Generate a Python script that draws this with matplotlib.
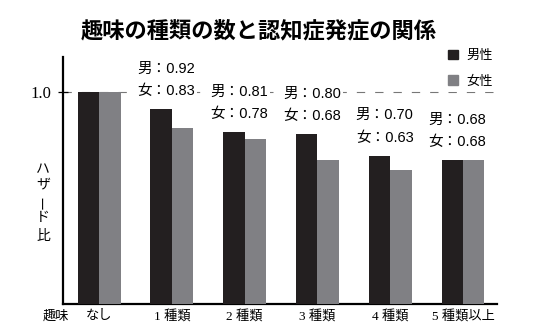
import matplotlib
matplotlib.use("Agg")
import matplotlib.pyplot as plt
from matplotlib.patches import Patch
import numpy as np

plt.rcParams['font.family'] = ['Liberation Sans', 'Noto Sans CJK JP', 'DejaVu Sans']

# data
categories = ["なし", "1 種類", "2 種類", "3 種類", "4 種類", "5 種類以上"]
male = [1.00, 0.92, 0.81, 0.80, 0.70, 0.68]
female = [1.00, 0.83, 0.78, 0.68, 0.63, 0.68]
series_names = ["男性", "女性"]
title = "趣味の種類の数と認知症発症の関係"
ylabel_chars = ["ハ", "ザ", "ー", "ド", "比"]

MALE_C = "#231f20"
FEMALE_C = "#808084"

W, H = 541, 333
fig = plt.figure(figsize=(W / 100, H / 100), dpi=100)
ax = fig.add_axes([63 / W, 29 / H, (497 - 63) / W, (304 - 57) / H])

x = np.arange(len(categories))
bw = 0.295
ax.bar(x - bw / 2, male, width=bw, color=MALE_C, zorder=3)
ax.bar(x + bw / 2, female, width=bw, color=FEMALE_C, zorder=3)

ax.set_xlim(-0.495, 5.467)
ax.set_ylim(0, 1.165)

# reference line at 1.0
ax.axhline(1.0, color="#777777", lw=0.8, dashes=(7.5, 9), zorder=1)

# spines and ticks
for s in ["top", "right"]:
    ax.spines[s].set_visible(False)
ax.spines["left"].set_linewidth(1.6)
ax.spines["bottom"].set_linewidth(1.6)
ax.set_yticks([1.0])
ax.set_yticklabels(["1.0"], family=["Liberation Serif", "Noto Sans CJK JP"], fontsize=12)
ax.tick_params(axis="y", direction="inout", length=7, width=0.9, pad=5)
ax.set_xticks(x)
ax.set_xticklabels(categories, family=["Liberation Serif", "Noto Sans CJK JP"], fontsize=9.5)
ax.tick_params(axis="x", length=0, pad=4)
fig.text(56 / W, 1 - 316 / H, "趣味", ha="center", va="center",
         family=["Noto Sans CJK JP"], fontsize=9.5)

# value labels
lab_font = dict(fontsize=10.5, family=["Liberation Sans", "Noto Sans CJK JP"],
                ha="center", va="center", zorder=5,
                bbox=dict(boxstyle="square,pad=0.15", fc="white", ec="none"))
for i in range(1, len(categories)):
    ax.annotate(f"男：{male[i]:.2f}", xy=(x[i], male[i]), xytext=(-4, 29),
                textcoords="offset points", **lab_font)
    ax.annotate(f"女：{female[i]:.2f}", xy=(x[i], male[i]), xytext=(-4, 13),
                textcoords="offset points", **lab_font)

# vertical y-axis label
ycent = [169, 184, 202, 217, 236]
for ch, yc in zip(ylabel_chars, ycent):
    rot = 90 if ch == "ー" else 0
    fig.text(43 / W, 1 - yc / H, ch, ha="center", va="center", rotation=rot,
             family=["Noto Sans CJK JP"], fontsize=10)

# title
fig.text(259 / W, 1 - 31 / H, title, ha="center", va="center",
         family=["Noto Sans CJK JP"], fontweight="bold", fontsize=16)

# legend
handles = [Patch(color=MALE_C), Patch(color=FEMALE_C)]
leg = fig.legend(handles, series_names, loc="upper left",
                 bbox_to_anchor=(437 / W, 1 - 38 / H),
                 prop=dict(family=["Noto Sans CJK JP"], size=9.5),
                 handlelength=0.75, handleheight=0.75, handletextpad=0.6,
                 labelspacing=0.95, borderpad=0.35, frameon=True, fancybox=False)
leg.get_frame().set_facecolor("white")
leg.get_frame().set_edgecolor("none")

fig.savefig("out.png", dpi=100)
